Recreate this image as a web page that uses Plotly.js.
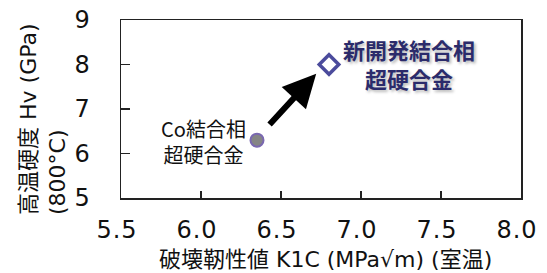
<!DOCTYPE html>
<html>
<head>
<meta charset="utf-8">
<script src="https://cdn.plot.ly/plotly-3.0.1.min.js"></script>
<style>
html,body{margin:0;padding:0;background:#fff;}
#chart{width:547px;height:273px;}
.xtick text, .ytick text{letter-spacing:1px;}
</style>
</head>
<body>
<div id="chart"></div>
<script>
const seriesNames = ["Co結合相<br>超硬合金", "新開発結合相<br>超硬合金"];
const toughness = [6.35, 6.80];
const hardness = [6.30, 8.00];
const xTicks = [5.5, 6.0, 6.5, 7.0, 7.5, 8.0];
const yTicks = [5, 6, 7, 8, 9];
const arrowFrom = [6.42, 6.62];
const arrowTo = [6.72, 7.79];

const FONT = "DejaVu Sans, Noto Sans CJK JP, sans-serif";
const CJK = "Noto Sans CJK JP, DejaVu Sans, sans-serif";

const traces = [
  {
    x: [toughness[0]], y: [hardness[0]], type: 'scatter', mode: 'markers',
    marker: {symbol: 'circle', size: 13, color: '#858585', line: {color: '#7a68b0', width: 2}},
    hoverinfo: 'skip'
  },
  {
    x: [toughness[1]], y: [hardness[1]], type: 'scatter', mode: 'markers',
    marker: {symbol: 'diamond-open', size: 15, color: '#4b4b9c', line: {color: '#4b4b9c', width: 3.5}},
    hoverinfo: 'skip'
  }
];

const layout = {
  width: 547, height: 273,
  margin: {l: 121, r: 26, t: 20, b: 75},
  paper_bgcolor: '#fff', plot_bgcolor: '#fff',
  showlegend: false,
  font: {family: FONT, color: '#111'},
  xaxis: {
    range: [5.5, 8.0], tickvals: xTicks, ticktext: xTicks.map(v => v.toFixed(1)),
    ticks: 'inside', ticklen: 7, tickwidth: 1.5, tickcolor: '#222',
    showline: true, linecolor: '#222', linewidth: 1.5, mirror: true,
    showgrid: false, zeroline: false,
    tickfont: {family: FONT, size: 24, color: '#111'},
    ticklabelstandoff: 10, ticklabelshift: -4,
    title: {text: ''}
  },
  yaxis: {
    range: [5, 9], tickvals: yTicks,
    ticks: 'inside', ticklen: 9, tickwidth: 1.5, tickcolor: '#222',
    showline: true, linecolor: '#222', linewidth: 1.5, mirror: true,
    showgrid: false, zeroline: false,
    tickfont: {family: FONT, size: 24, color: '#111'},
    ticklabelstandoff: 24,
    title: {text: ''}
  },
  annotations: [
    {
      xref: 'paper', yref: 'paper', x: 0.51, y: -0.345, xanchor: 'center', yanchor: 'middle',
      text: '破壊靭性値 K1C (MPa√m) (室温)', showarrow: false,
      font: {family: FONT, size: 22, color: '#111'}
    },
    {
      xref: 'paper', yref: 'paper', x: (43 - 121) / 400, y: (198 - 217) / 178,
      xanchor: 'center', yanchor: 'bottom', textangle: -90, align: 'left',
      text: '高温硬度 Hv (GPa)<br>(800°C)', showarrow: false,
      font: {family: FONT, size: 22, color: '#111'}
    },
    {
      x: arrowTo[0], y: arrowTo[1], ax: arrowFrom[0], ay: arrowFrom[1],
      xref: 'x', yref: 'y', axref: 'x', ayref: 'y',
      text: '', showarrow: true, arrowhead: 2, arrowsize: 1.1, arrowwidth: 6, arrowcolor: '#000'
    },
    {
      x: toughness[0], y: hardness[0], xref: 'x', yref: 'y',
      text: seriesNames[0], showarrow: false, align: 'center',
      xanchor: 'center', yanchor: 'middle', xshift: -54, yshift: -1,
      font: {family: CJK, size: 20, color: '#111'}
    },
    {
      x: toughness[1], y: hardness[1], xref: 'x', yref: 'y',
      text: seriesNames[1], showarrow: false, align: 'center',
      xanchor: 'center', yanchor: 'middle', xshift: 80, yshift: 1,
      font: {family: CJK, size: 22, weight: 'bold', color: '#2b2b6b',
             shadow: '2px 2px 3px rgba(0,0,0,0.28)'}
    }
  ]
};

Plotly.newPlot('chart', traces, layout, {staticPlot: true, displayModeBar: false});
</script>
</body>
</html>
